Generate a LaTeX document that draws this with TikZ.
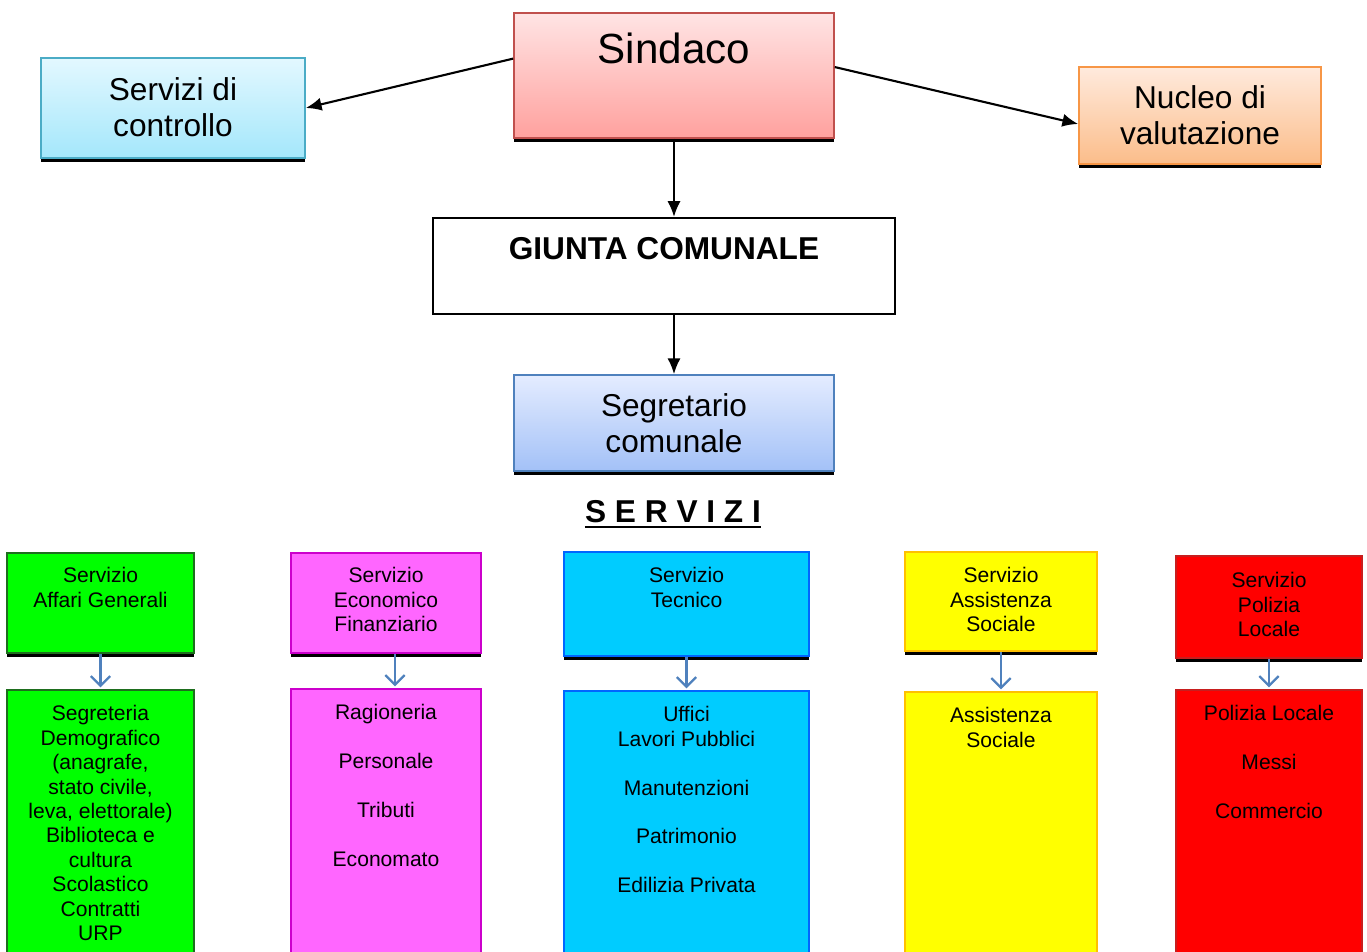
\documentclass[tikz,border=0pt]{standalone}
\usepackage{fontspec}
\setmainfont{Liberation Sans}
\usetikzlibrary{positioning,arrows.meta,shadows}

\definecolor{ctrlline}{HTML}{4BACC6}
\definecolor{ctrltop}{HTML}{E3F8FF}
\definecolor{ctrlbot}{HTML}{A4E7FB}
\definecolor{sindline}{HTML}{C0504D}
\definecolor{sindtop}{HTML}{FFE4E4}
\definecolor{sindbot}{HTML}{FFA19E}
\definecolor{nuclline}{HTML}{F79646}
\definecolor{nucltop}{HTML}{FFEADD}
\definecolor{nuclbot}{HTML}{FBBD8A}
\definecolor{segrline}{HTML}{4F81BD}
\definecolor{segrtop}{HTML}{E4ECFF}
\definecolor{segrbot}{HTML}{A3C1F7}
\definecolor{arrblue}{HTML}{4F81BD}
\definecolor{agfill}{HTML}{00FF00}
\definecolor{agline}{HTML}{1E6E1E}
\definecolor{effill}{HTML}{FF66FF}
\definecolor{efline}{HTML}{CC00CC}
\definecolor{tefill}{HTML}{00CCFF}
\definecolor{teline}{HTML}{0066FF}
\definecolor{asfill}{HTML}{FFFF00}
\definecolor{asline}{HTML}{FFC000}
\definecolor{plfill}{HTML}{FF0000}
\definecolor{plline}{HTML}{C81E1E}

\tikzset{
  boxsize/.style 2 args={minimum width=#1*0.02cm, minimum height=#2*0.02cm},
  blackshadow/.style={drop shadow={shadow xshift=0pt, shadow yshift=-0.08cm, opacity=1, fill=black}},
}

\begin{document}
\begin{tikzpicture}[x=0.02cm,y=-0.02cm,
    every node/.style={inner sep=0pt, align=center},
    upbox/.style={draw, line width=0.9pt, blackshadow},
    srvbox/.style={draw, line width=1pt, blackshadow},
    subbox/.style={draw, line width=1pt},
    bigtxt/.style={font=\fontsize{18}{20.7}\selectfont},
    smalltxt/.style={font=\fontsize{12}{13.9}\selectfont},
    arr/.style={-{Latex[length=9pt,width=7.5pt]}, line width=1.2pt},
    barr/.style={-{Straight Barb[length=5.5pt,width=11pt]}, line width=1.3pt, draw=arrblue, shorten >=1pt}]

  \path[use as bounding box] (0,0) rectangle (1367,952);
  \clip (0,0) rectangle (1367,952);

  % vertice
  \node[upbox, boxsize={320}{125}, draw=sindline, top color=sindtop, bottom color=sindbot] (sindaco) at (674,75.5) {};
  \node[font=\fontsize{24}{28}\selectfont, below=0.4cm of sindaco.north] (sindacot) {Sindaco};

  \node[upbox, boxsize={264}{100}, draw=ctrlline, top color=ctrltop, bottom color=ctrlbot] (controllo) at (173,108) {};
  \node[bigtxt, below=0.40cm of controllo.north] (controllot) {Servizi di\\controllo};
  \node[upbox, bigtxt, boxsize={242}{97}, draw=nuclline, top color=nucltop, bottom color=nuclbot] (nucleo) at (1200,115.5) {Nucleo di\\valutazione};

  \node[draw, line width=1.1pt, fill=white, boxsize={462}{96}] (giunta) at (664,266) {};
  \node[font=\fontsize{18}{20.7}\selectfont\bfseries, below=0.40cm of giunta.north] (giuntat) {GIUNTA COMUNALE};

  \node[upbox, bigtxt, boxsize={320}{96}, draw=segrline, top color=segrtop, bottom color=segrbot] (segretario) at (674,423) {Segretario\\comunale};

  \draw[arr] (sindaco.174) -- (controllo.east);
  \draw[arr] (sindaco.3) -- (nucleo.184);
  \draw[arr] (sindaco.south) -- (sindaco.south |- giunta.north);
  \draw[arr] (segretario.north |- giunta.south) -- (segretario.north);

  \node[font=\fontsize{18}{20.7}\selectfont\bfseries] (servizi) at (673,512) {S E R V I Z I};
  \draw[line width=1.1pt] ([yshift=-2.3pt]servizi.base west) -- ([yshift=-2.3pt]servizi.base east);

  % servizi
  \node[srvbox, boxsize={187}{100}, draw=agline, fill=agfill] (ag) at (100.5,603) {};
  \node[smalltxt, below=0.30cm of ag.north] (agt) {Servizio\\Affari Generali};
  \node[subbox, boxsize={187}{290}, draw=agline, fill=agfill] (agc) at (100.5,835) {};
  \node[smalltxt, below=0.32cm of agc.north] (agct) {Segreteria\\Demografico\\(anagrafe,\\stato civile,\\leva, elettorale)\\Biblioteca e\\cultura\\Scolastico\\Contratti\\URP};

  \node[srvbox, boxsize={190}{100}, draw=efline, fill=effill] (ef) at (386,603) {};
  \node[smalltxt, below=0.30cm of ef.north] (eft) {Servizio\\Economico\\Finanziario};
  \node[subbox, boxsize={190}{290}, draw=efline, fill=effill] (efc) at (386,834) {};
  \node[smalltxt, below=0.32cm of efc.north] (efct) {Ragioneria\\[13.9pt]Personale\\[13.9pt]Tributi\\[13.9pt]Economato};

  \node[srvbox, boxsize={245}{104}, draw=teline, fill=tefill] (te) at (686.5,604) {};
  \node[smalltxt, below=0.32cm of te.north] (tet) {Servizio\\Tecnico};
  \node[subbox, boxsize={245}{290}, draw=teline, fill=tefill] (tec) at (686.5,836) {};
  \node[smalltxt, below=0.32cm of tec.north] (tect) {Uffici\\Lavori Pubblici\\[13.9pt]Manutenzioni\\[13.9pt]Patrimonio\\[13.9pt]Edilizia Privata};

  \node[srvbox, boxsize={192}{99}, draw=asline, fill=asfill] (as) at (1001,601.5) {};
  \node[smalltxt, below=0.32cm of as.north] (ast) {Servizio\\Assistenza\\Sociale};
  \node[subbox, boxsize={192}{290}, draw=asline, fill=asfill] (asc) at (1001,837) {};
  \node[smalltxt, below=0.32cm of asc.north] (asct) {Assistenza\\Sociale};

  \node[srvbox, boxsize={186}{102}, draw=plline, fill=plfill] (pl) at (1269,607) {};
  \node[smalltxt, below=0.34cm of pl.north] (plt) {Servizio\\Polizia\\Locale};
  \node[subbox, boxsize={186}{290}, draw=plline, fill=plfill] (plc) at (1269,835) {};
  \node[smalltxt, below=0.32cm of plc.north] (plct) {Polizia Locale\\[13.9pt]Messi\\[13.9pt]Commercio};

  \draw[barr] (ag.south) -- (agc.north);
  \draw[barr] ([xshift=0.18cm]ef.south) -- ([xshift=0.18cm]efc.north);
  \draw[barr] (te.south) -- (tec.north);
  \draw[barr] (as.south) -- (asc.north);
  \draw[barr] (pl.south) -- (plc.north);
\end{tikzpicture}
\end{document}
